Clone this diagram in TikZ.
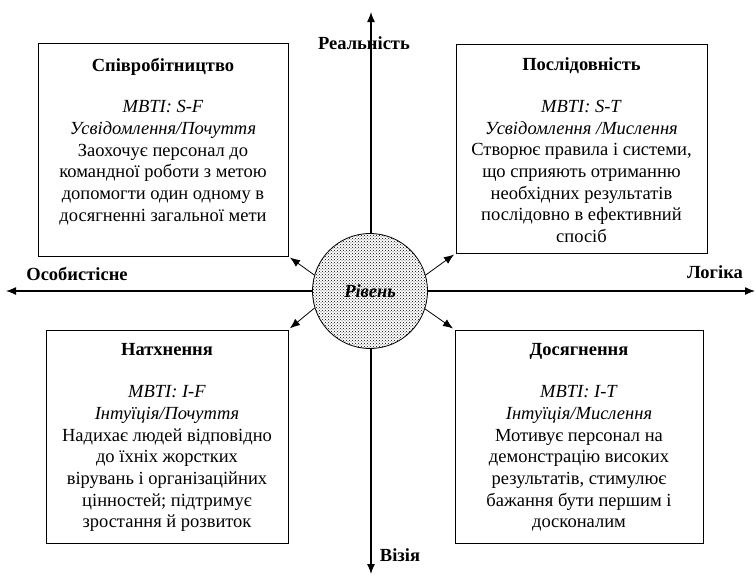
\documentclass[tikz,border=0pt]{standalone}
\usepackage{fontspec}
\setmainfont{Liberation Serif}
\usepackage{tikz}
\usetikzlibrary{positioning,arrows,arrows.meta,patterns}

\begin{document}
\begin{tikzpicture}[>={Latex[length=10pt,width=8pt]},x=1pt,y=-1pt,font=\fontsize{18.5}{21.7}\selectfont]
  \tikzstyle{box}=[draw, rectangle, line width=0.8pt, inner sep=0pt]
  \tikzstyle{txt}=[align=center, inner sep=0pt]
  \tikzstyle{lbl}=[font=\fontsize{18.5}{21.7}\selectfont\bfseries, inner sep=0pt]
  \tikzstyle{axis}=[<->, line width=1.3pt]
  \tikzstyle{conn}=[->, line width=0.8pt, shorten >=2pt]
  \useasboundingbox (0,0) rectangle (756,576);

  % axes
  \coordinate (top) at (371,12);
  \coordinate (bottom) at (371,574);
  \coordinate (left) at (6,291);
  \coordinate (right) at (755,291);
  \draw[axis] (top) -- (bottom);
  \draw[axis] (left) -- (right);

  \node[lbl] (real) at (364,43) {Реальність};
  \node[lbl] (pers) at (77,274) {Особистісне};
  \node[lbl] (logic) at (715,272) {Логіка};
  \node[lbl] (vision) at (400,555) {Візія};

  % centre
  \node[circle, draw, line width=0.8pt, minimum size=115pt, preaction={fill=white},
        pattern=crosshatch dots, font=\fontsize{18.5}{21.7}\selectfont\bfseries\itshape] (lvl) at (370,291) {Рівень};

  % boxes
  \node[box, minimum width=250pt, minimum height=213pt] (coop) at (163,149.5) {};
  \node[txt, below=15pt of coop.north] (coopt) {\textbf{Співробітництво}\\[20pt]
    \textit{MBTI: S-F}\\ \textit{Усвідомлення/Почуття}\\ Заохочує персонал до\\
    командної роботи з метою\\ допомогти один одному в\\ досягненні загальної мети};

  \node[box, minimum width=251pt, minimum height=209pt] (cons) at (581.5,148.5) {};
  \node[txt, below=14pt of cons.north] (const) {\textbf{Послідовність}\\[20pt]
    \textit{MBTI: S-T}\\ \textit{Усвідомлення /Мислення}\\ Створює правила і системи,\\
    що сприяють отриманню\\ необхідних результатів\\ послідовно в ефективний\\ спосіб};

  \node[box, minimum width=242pt, minimum height=213pt] (insp) at (167,436.5) {};
  \node[txt, below=14pt of insp.north] (inspt) {\textbf{Натхнення}\\[20pt]
    \textit{MBTI: I-F}\\ \textit{Інтуїція/Почуття}\\ Надихає людей відповідно\\
    до їхніх жорстких\\ вірувань і організаційних\\ цінностей; підтримує\\ зростання й розвиток};

  \node[box, minimum width=248pt, minimum height=213pt] (achv) at (579,436.5) {};
  \node[txt, below=14pt of achv.north] (achvt) {\textbf{Досягнення}\\[20pt]
    \textit{MBTI: I-T}\\ \textit{Інтуїція/Мислення}\\ Мотивує персонал на\\
    демонстрацію високих\\ результатів, стимулює\\ бажання бути першим і\\ досконалим};

  \path (lvl.164) edge[conn] (coop.south east)
        (lvl.16)  edge[conn] (cons.south west)
        (lvl.197) edge[conn] (insp.north east)
        (lvl.342) edge[conn] (achv.north west);
\end{tikzpicture}
\end{document}
